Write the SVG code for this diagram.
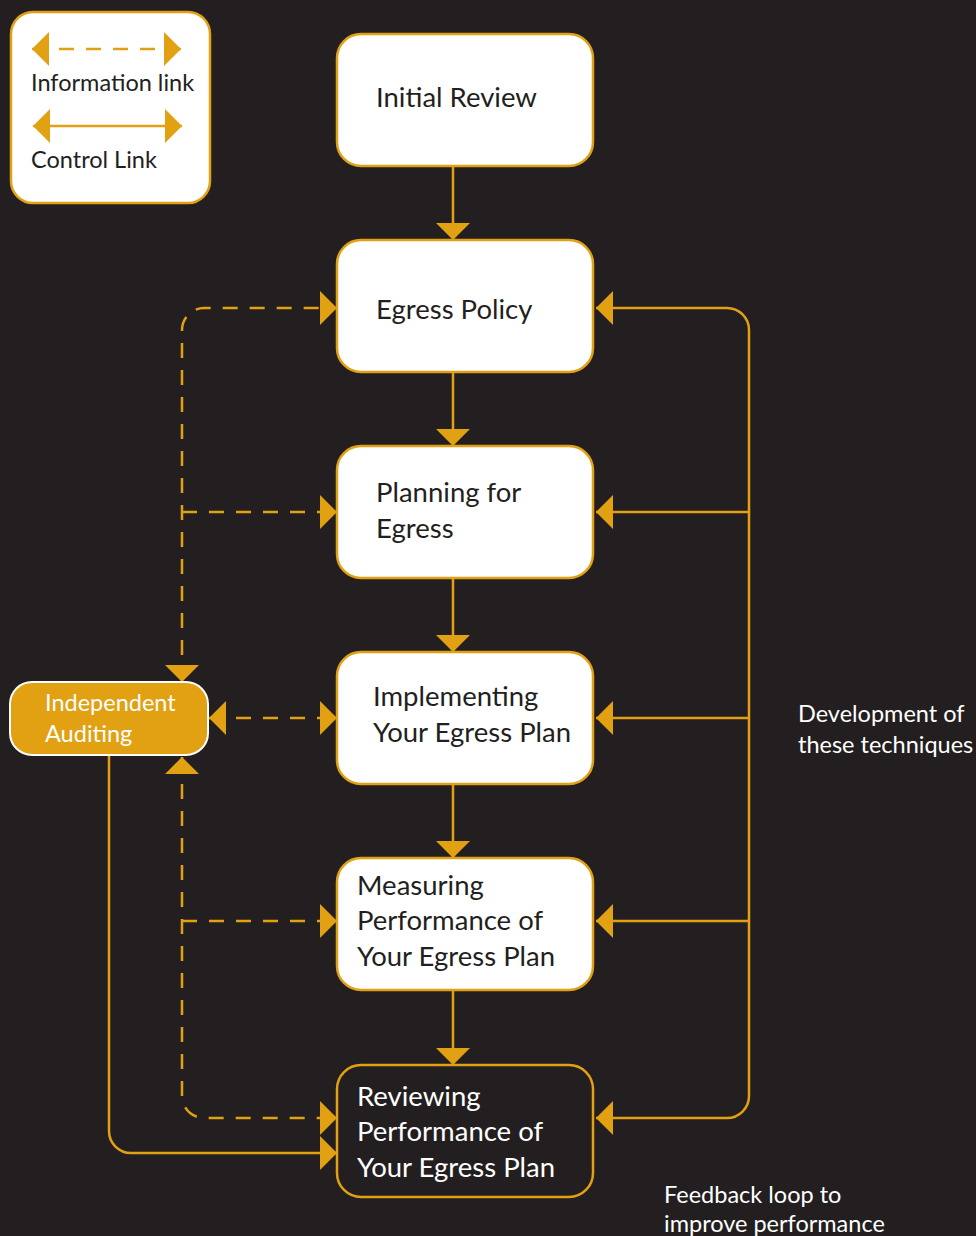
<svg xmlns="http://www.w3.org/2000/svg" width="976" height="1236" viewBox="0 0 976 1236">
<style>
.bg{fill:#231f20}
.box{fill:#ffffff;stroke:#e2a013;stroke-width:2.5}
.dbox{fill:#231f20;stroke:#e2a013;stroke-width:2.5}
.obox{fill:#e2a013;stroke:#ffffff;stroke-width:2}
.t{font-family:Lato,"Liberation Sans",sans-serif;font-size:27.5px;fill:#231f20}
.tw{font-family:Lato,"Liberation Sans",sans-serif;font-size:27.5px;fill:#ffffff}
.ts{font-family:Lato,"Liberation Sans",sans-serif;font-size:23.5px;fill:#ffffff}
.tl{font-family:Lato,"Liberation Sans",sans-serif;font-size:23.5px;fill:#231f20}
.c{fill:none;stroke:#e2a013;stroke-width:2.5}
.d{fill:none;stroke:#e2a013;stroke-width:2.5;stroke-dasharray:15 12}
</style>
<defs>
<marker id="ah" markerUnits="userSpaceOnUse" markerWidth="17" markerHeight="34" refX="17" refY="17" orient="auto-start-reverse" viewBox="0 0 17 34">
<path d="M0,0 L17,17 L0,34 Z" fill="#e2a013"/>
</marker>
</defs>
<rect class="bg" x="0" y="0" width="976" height="1236"/>

<g id="legend">
<rect class="box" x="11" y="12" width="199" height="191" rx="22"/>
<path class="d" d="M32,49 H181" marker-start="url(#ah)" marker-end="url(#ah)"/>
<text class="tl" x="31" y="91">Information link</text>
<path class="c" d="M33,126 H182" marker-start="url(#ah)" marker-end="url(#ah)"/>
<text class="tl" x="31" y="168">Control Link</text>
</g>

<g id="connectors">
<path class="c" d="M453,166 V240" marker-end="url(#ah)"/>
<path class="c" d="M453,372 V446" marker-end="url(#ah)"/>
<path class="c" d="M453,578 V652" marker-end="url(#ah)"/>
<path class="c" d="M453,784 V858" marker-end="url(#ah)"/>
<path class="c" d="M453,990 V1065" marker-end="url(#ah)"/>
<path class="c" d="M596,308 H727 A22,22 0 0 1 749,330 V1096 A22,22 0 0 1 727,1118 H596" marker-start="url(#ah)" marker-end="url(#ah)"/>
<path class="c" d="M749,512 H596" marker-end="url(#ah)"/>
<path class="c" d="M749,718 H596" marker-end="url(#ah)"/>
<path class="c" d="M749,921 H596" marker-end="url(#ah)"/>
<path class="d" d="M182,682 V330 A22,22 0 0 1 204,308 H337" marker-start="url(#ah)" marker-end="url(#ah)"/>
<path class="d" d="M182,512 H337" marker-end="url(#ah)"/>
<path class="d" d="M209,718 H337" marker-start="url(#ah)" marker-end="url(#ah)"/>
<path class="d" d="M182,757 V1096 A22,22 0 0 0 204,1118 H337" marker-start="url(#ah)" marker-end="url(#ah)"/>
<path class="d" d="M182,921 H337" marker-end="url(#ah)"/>
<path class="c" d="M109,755 V1131 A22,22 0 0 0 131,1153 H337" marker-end="url(#ah)"/>
</g>

<g id="initial-review">
<rect class="box" x="337" y="34" width="256" height="132" rx="24"/>
<text class="t" x="376" y="107">Initial Review</text>
</g>
<g id="egress-policy">
<rect class="box" x="337" y="240" width="256" height="132" rx="24"/>
<text class="t" x="376" y="319">Egress Policy</text>
</g>
<g id="planning">
<rect class="box" x="337" y="446" width="256" height="132" rx="24"/>
<text class="t" x="376" y="502">Planning for</text>
<text class="t" x="376" y="538">Egress</text>
</g>
<g id="implementing">
<rect class="box" x="337" y="652" width="256" height="132" rx="24"/>
<text class="t" x="373" y="706">Implementing</text>
<text class="t" x="373" y="742">Your Egress Plan</text>
</g>
<g id="measuring">
<rect class="box" x="337" y="858" width="256" height="132" rx="24"/>
<text class="t" x="357" y="895">Measuring</text>
<text class="t" x="357" y="930">Performance of</text>
<text class="t" x="357" y="966">Your Egress Plan</text>
</g>
<g id="reviewing">
<rect class="dbox" x="337" y="1065" width="256" height="132" rx="24"/>
<text class="tw" x="357" y="1106">Reviewing</text>
<text class="tw" x="357" y="1141">Performance of</text>
<text class="tw" x="357" y="1177">Your Egress Plan</text>
</g>
<g id="auditing">
<rect class="obox" x="10" y="682" width="198" height="73" rx="22"/>
<text class="ts" x="45" y="711">Independent</text>
<text class="ts" x="45" y="742">Auditing</text>
</g>
<g id="labels">
<text class="ts" x="798" y="722">Development of</text>
<text class="ts" x="798" y="753">these techniques</text>
<text class="ts" x="664" y="1203">Feedback loop to</text>
<text class="ts" x="664" y="1232">improve performance</text>
</g>
</svg>
